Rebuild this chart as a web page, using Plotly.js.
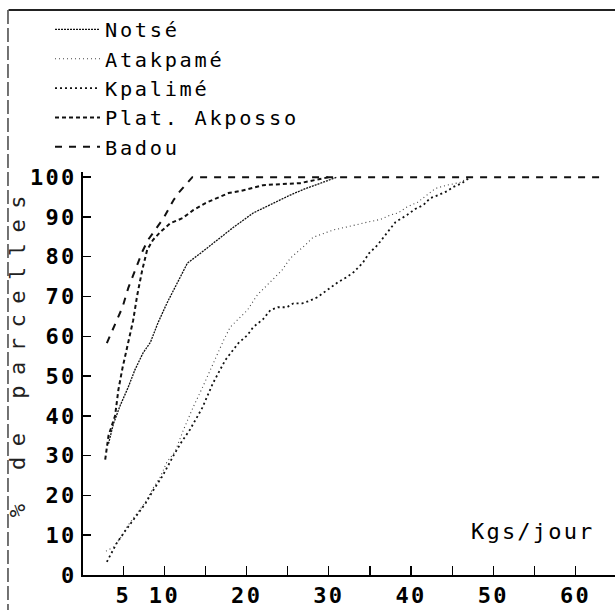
<!DOCTYPE html>
<html>
<head>
<meta charset="utf-8">
<script src="https://cdn.plot.ly/plotly-3.0.1.min.js"></script>
<style>
html,body{margin:0;padding:0;background:#fff;}
#chart{width:615px;height:610px;}
</style>
</head>
<body>
<div id="chart"></div>
<script>
// ---- data ----
const seriesNames = ["Notsé", "Atakpamé", "Kpalimé", "Plat. Akposso", "Badou"];

const notseX = [3.2, 3.8, 4.6, 5.6, 6.4, 7.4, 8.3, 9.2, 10.3, 11.6, 12.8, 14.4, 16.4, 18.4, 20.8, 23.2, 25.3, 27.0, 29.0, 31.0];
const notseY = [33, 38, 42.5, 47.2, 51.5, 55.8, 58.5, 63.3, 68.3, 73.4, 78.4, 80.9, 84.2, 87.4, 91.0, 93.5, 95.5, 97.0, 98.5, 100];

const atakX = [2.9, 3.8, 4.9, 5.4, 6.7, 7.7, 8.7, 9.5, 10.3, 11.3, 12.3, 13.5, 14.6, 15.3, 16.2, 17.2, 18.0, 19.0, 20.1, 21.3, 22.3, 23.3, 24.3, 25.3, 26.2, 27.1, 28.1, 29.3, 30.5, 32.0, 33.5, 34.7, 36.3, 37.5, 38.4, 39.5, 40.8, 42.0, 43.0, 44.4, 46.0, 47.0];
const atakY = [6, 7, 10, 12, 15.6, 18.3, 22.1, 24.6, 28.4, 31, 36.4, 42.2, 47, 50.3, 54.5, 59, 62.3, 64.3, 66.6, 70.4, 72.4, 74.5, 76.6, 79.6, 81.2, 82.9, 84.9, 85.9, 86.7, 87.4, 88.2, 88.7, 89.4, 90.5, 91, 92.5, 93.7, 95.5, 97.2, 98, 98.7, 100];

const kpalX = [3.0, 4.2, 5.2, 6.5, 7.7, 8.7, 9.8, 11.1, 12.1, 13.1, 14.6, 15.9, 17.4, 19.0, 20.1, 20.8, 22.0, 22.9, 23.8, 24.9, 25.7, 26.8, 27.5, 28.6, 29.3, 30.2, 31.1, 32.2, 33.0, 34.1, 34.9, 35.9, 36.9, 38.1, 39.5, 40.5, 41.5, 42.3, 43.3, 44.4, 45.1, 46.2, 47.2];
const kpalY = [3.3, 8, 11, 14.5, 18, 21.5, 25, 30, 33.5, 36.5, 42, 48.2, 54, 58.3, 60.3, 62.3, 64.3, 66.6, 67.3, 67.3, 68.3, 68.3, 68.8, 69.8, 70.9, 72.1, 73.6, 74.9, 76.1, 78.4, 80.9, 82.9, 85.4, 88.7, 90.5, 92, 93, 94.7, 95.5, 96.5, 97.5, 98.5, 100];

const akpossoX = [2.8, 3.2, 4.0, 4.4, 4.9, 5.6, 6.2, 6.7, 7.3, 7.9, 8.6, 9.5, 10.7, 12.2, 13.5, 15.0, 16.4, 17.8, 19.2, 22.0, 26.5, 30.0];
const akpossoY = [29, 35, 40, 46.5, 52, 58.3, 64, 70.4, 76.6, 81.7, 84.2, 86.2, 88.4, 89.7, 91.7, 93.5, 94.7, 96, 96.5, 98, 98.5, 100];

const badouX = [3.0, 4.0, 4.9, 5.6, 6.4, 7.3, 8.0, 9.9, 11.1, 11.7, 13.4, 63.0];
const badouY = [58.3, 62.8, 67.3, 72.1, 76.6, 81.2, 84.2, 89.7, 94.2, 96, 100, 100];

const xTickVals = [5, 10, 20, 30, 40, 50, 60];
const xTickText = ["5", "10", "20", "30", "40", "50", "60"];
const yTickVals = [0, 10, 20, 30, 40, 50, 60, 70, 80, 90, 100];
const yTickText = ["0", "10", "20", "30", "40", "50", "60", "70", "80", "90", "100"];

const xTitleText = "Kgs/jour";
const yTitleText = "% de parcelles";

// ---- chart ----
const MONO = "DejaVu Sans Mono, Liberation Mono, monospace";
const spaced = (t, px) => '<span style="letter-spacing:' + px + 'px">' + t + '</span>';

const styles = [
  {color: "#111", width: 1.3, dash: "2px,1px"},
  {color: "#444", width: 1.1, dash: "1px,3px"},
  {color: "#111", width: 1.8, dash: "2px,3px"},
  {color: "#111", width: 2, dash: "4px,3px"},
  {color: "#111", width: 2, dash: "7px,7px"}
];
const xs = [notseX, atakX, kpalX, akpossoX, badouX];
const ys = [notseY, atakY, kpalY, akpossoY, badouY];

const traces = seriesNames.map((n, i) => ({
  type: "scatter",
  mode: "lines",
  name: spaced(n, 2.7),
  x: xs[i],
  y: ys[i],
  line: styles[i],
  hoverinfo: "skip"
}));

const layout = {
  width: 615,
  height: 610,
  margin: {l: 83, r: 0, t: 172, b: 35, pad: 0},
  paper_bgcolor: "#fff",
  plot_bgcolor: "#fff",
  font: {family: MONO, color: "#000", size: 22},
  showlegend: true,
  legend: {
    x: -0.062, y: 1.403, xanchor: "left", yanchor: "top",
    bgcolor: "rgba(0,0,0,0)", borderwidth: 0,
    font: {family: MONO, size: 20.3, color: "#000"},
    itemwidth: 45,
    tracegroupgap: 0
  },
  xaxis: {
    range: [0.1, 64.8],
    showgrid: false, zeroline: false,
    showline: true, linecolor: "#000", linewidth: 2,
    tickmode: "array", tickvals: xTickVals, ticktext: xTickText.map(t => spaced(t, 2.3)),
    ticks: "inside", ticklen: 9, tickwidth: 1.2, tickcolor: "#000",
    minor: {dtick: 5, tick0: 0, ticks: "inside", ticklen: 9, tickwidth: 1.2, tickcolor: "#000", showgrid: false},
    tickfont: {family: MONO, size: 22, color: "#000", weight: "bold"},
    fixedrange: true
  },
  yaxis: {
    range: [0, 101.3],
    showgrid: false, zeroline: false,
    showline: true, linecolor: "#000", linewidth: 2,
    tickmode: "array", tickvals: yTickVals, ticktext: yTickText.map(t => spaced(t, 2.3)),
    ticks: "inside", ticklen: 8, tickwidth: 1.5, tickcolor: "#000",
    tickfont: {family: MONO, size: 22, color: "#000", weight: "bold"},
    fixedrange: true
  },
  annotations: [
    {text: spaced(xTitleText, 2.2), xref: "paper", yref: "paper", x: 0.846, y: 0.107, xanchor: "center", yanchor: "middle", showarrow: false,
     font: {family: MONO, size: 22, color: "#000"}},
    {text: spaced(yTitleText, 10.5), xref: "paper", yref: "paper", x: -0.124, y: 0.555, xanchor: "center", yanchor: "middle", textangle: -90, showarrow: false,
     font: {family: MONO, size: 22, color: "#222"}}
  ],
  shapes: [
    {type: "line", xref: "paper", yref: "paper", x0: -0.14, x1: 1.0, y0: 1.402, y1: 1.402, line: {color: "#222", width: 2}},
    {type: "line", xref: "paper", yref: "paper", x0: -0.141, x1: -0.141, y0: 1.402, y1: -0.087, line: {color: "#444", width: 1.5, dash: "14px,4px"}}
  ]
};

Plotly.newPlot("chart", traces, layout, {displayModeBar: false, staticPlot: true});
</script>
</body>
</html>
